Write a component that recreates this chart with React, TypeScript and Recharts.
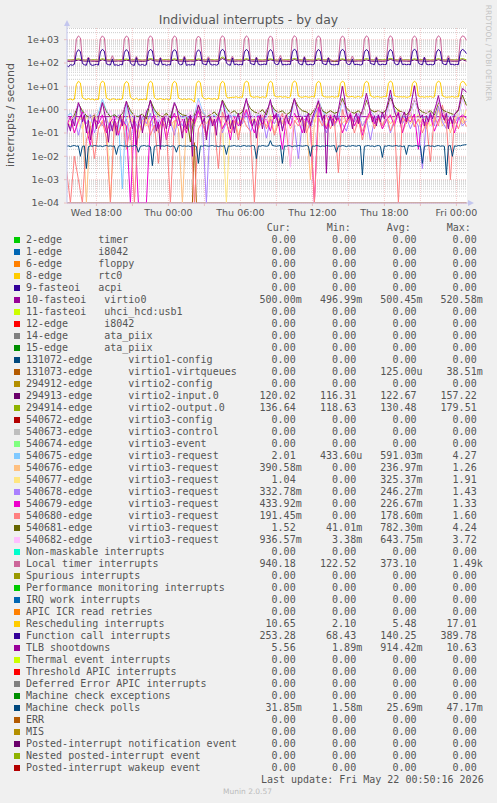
import { LineChart, Line, XAxis, YAxis, CartesianGrid, ReferenceLine } from 'recharts';

// time is in hours relative to Thu 00:00; one row every 10 minutes
const START_HOUR = -8.5;
const ROW_HOURS = 1 / 6;
const ROW_COUNT = 201;
const FLOOR = 1e-4; // zero values sit on the bottom of the log scale

const X_GRID_HOURS = [-6, -3, 0, 3, 6, 9, 12, 15, 18, 21, 24];
const X_LABEL_HOURS = [-6, 0, 6, 12, 18, 24];
const X_LABELS = ['Wed 18:00', 'Thu 00:00', 'Thu 06:00', 'Thu 12:00', 'Thu 18:00', 'Fri 00:00'];
const Y_TICKS = [1e-4, 1e-3, 1e-2, 1e-1, 1, 10, 100, 1000];
const Y_LABELS = ['1e-04', '1e-03', '1e-02', '1e-01', '1e+00', '1e+01', '1e+02', '1e+03'];
const MINOR_STEPS = [2, 3, 4, 5, 6, 7, 8, 9];

// 10-minute series
const LOCAL_TIMER = [
  132, 128, 135, 130, 134, 1050, 1450, 1200, 140, 133, 130, 180,
  135, 130, 128, 133, 131, 1100, 1460, 1180, 138, 131, 129, 205,
  130, 134, 129, 127, 133, 1080, 1440, 1220, 142, 132, 128, 190,
  133, 129, 131, 135, 130, 1120, 1470, 1190, 139, 134, 130, 175,
  131, 128, 134, 129, 132, 1060, 1450, 1230, 141, 130, 127, 200,
  129, 133, 130, 128, 135, 1090, 1430, 1170, 137, 133, 131, 185,
  134, 130, 127, 132, 129, 1110, 1480, 1210, 143, 131, 128, 195,
  130, 135, 131, 128, 133, 1070, 1460, 1200, 140, 134, 129, 180,
  132, 128, 130, 134, 131, 1100, 1450, 1190, 138, 130, 132, 210,
  129, 133, 128, 131, 135, 1080, 1490, 1220, 142, 133, 127, 190,
  131, 130, 134, 129, 132, 1120, 1470, 1180, 139, 131, 130, 175,
  135, 129, 131, 133, 128, 1090, 1440, 1210, 141, 134, 128, 200,
  130, 132, 129, 135, 131, 1060, 1460, 1230, 137, 130, 133, 185,
  128, 134, 130, 127, 133, 1100, 1480, 1190, 140, 132, 129, 195,
  133, 129, 135, 131, 130, 1110, 1450, 1200, 143, 131, 130, 180,
  131, 133, 128, 132, 134, 1080, 1470, 1220, 139, 133, 128, 205,
  130, 134, 131, 129, 132, 1100, 1460, 1350, 940.18,
];
const FUNCTION_CALL = [
  82, 68.43, 85, 80, 88, 280, 370, 310, 95, 84, 80, 165,
  86, 79, 83, 88, 81, 300, 385, 320, 92, 85, 82, 150,
  80, 84, 78, 86, 83, 290, 375, 300, 97, 83, 79, 170,
  85, 81, 87, 79, 84, 310, 380, 330, 94, 86, 81, 160,
  83, 88, 80, 85, 82, 295, 370, 315, 96, 84, 87, 175,
  79, 85, 82, 88, 80, 285, 365, 305, 93, 88, 83, 155,
  87, 82, 86, 81, 89, 305, 385, 325, 98, 85, 80, 165,
  84, 90, 83, 87, 82, 300, 380, 320, 95, 89, 84, 170,
  88, 83, 86, 90, 85, 290, 375, 310, 97, 86, 88, 160,
  82, 87, 84, 89, 86, 310, 390, 330, 99, 87, 83, 175,
  86, 84, 88, 83, 90, 295, 380, 315, 96, 88, 85, 165,
  89, 85, 83, 87, 84, 305, 385, 325, 98, 86, 89, 150,
  84, 88, 86, 82, 87, 300, 375, 320, 95, 90, 84, 170,
  87, 83, 89, 85, 88, 290, 380, 310, 97, 85, 87, 160,
  85, 89, 84, 88, 83, 310, 389.78, 330, 99, 88, 84, 175,
  88, 84, 87, 83, 89, 295, 380, 315, 96, 87, 85, 165,
  86, 88, 83, 87, 85, 300, 385, 340, 253.28,
];
const RESCHEDULING = [
  2.8, 2.7, 2.9, 2.6, 2.8, 12, 16.5, 14, 3.3, 2.9, 2.7, 3.0,
  2.7, 2.9, 2.6, 2.8, 2.7, 13, 16.8, 14.5, 3.2, 2.8, 2.6, 2.9,
  2.9, 2.6, 2.8, 2.7, 2.9, 12.5, 16.2, 13.8, 3.4, 2.9, 2.7, 3.1,
  2.6, 2.8, 2.7, 2.9, 2.6, 13, 16.6, 14.2, 3.3, 2.8, 2.8, 3.0,
  2.8, 2.7, 2.9, 2.6, 2.8, 12.8, 16.4, 14, 3.2, 2.9, 2.7, 2.9,
  2.7, 2.9, 2.8, 2.6, 2.1, 13.2, 17.0, 14.4, 3.5, 3.0, 2.8, 3.1,
  2.9, 2.8, 3.0, 2.7, 2.9, 12.6, 16.5, 14.1, 3.6, 3.2, 3.3, 3.4,
  3.4, 3.6, 3.3, 3.5, 3.4, 13.5, 16.8, 14.6, 3.8, 3.5, 3.4, 3.6,
  3.5, 3.3, 3.6, 3.4, 3.5, 13, 16.6, 14.3, 3.9, 3.6, 3.5, 3.7,
  3.4, 3.6, 3.5, 3.3, 3.6, 13.4, 17.01, 14.5, 3.8, 3.5, 3.4, 3.6,
  3.6, 3.4, 3.5, 3.7, 3.4, 12.9, 16.4, 14.2, 3.9, 3.6, 3.5, 3.5,
  3.5, 3.7, 3.4, 3.6, 3.5, 13.3, 16.7, 14.6, 3.8, 3.5, 3.6, 3.7,
  3.4, 3.5, 3.7, 3.4, 3.6, 13, 16.5, 14.3, 4.0, 3.6, 3.4, 3.6,
  3.6, 3.4, 3.5, 3.7, 3.5, 13.4, 16.9, 14.4, 3.9, 3.7, 3.5, 3.6,
  3.5, 3.6, 3.4, 3.5, 3.7, 13.1, 16.6, 14.1, 3.8, 3.5, 3.6, 3.4,
  3.6, 3.5, 3.7, 3.4, 3.5, 13.2, 16.8, 14.5, 3.9, 3.6, 3.4, 3.5,
  3.5, 3.7, 3.4, 3.6, 3.5, 13, 16.6, 15, 10.65,
];
const TLB = [
  0.08, 0.25, 0.12, 0.4, 0.2, 0.7, 2.0, 1.2, 0.3, 0.6, 0.1, 0.35,
  0.05, 0.2, 0.5, 0.15, 0.45, 0.9, 2.0, 0.8, 0.25, 0.04, 0.3, 0.12,
  0.4, 0.08, 0.3, 0.6, 0.2, 1.0, 2.3, 0.9, 0.35, 0.15, 0.5, 0.03,
  0.25, 0.6, 0.1, 0.35, 0.8, 1.2, 2.6, 1.1, 0.4, 0.12, 0.3, 0.02,
  0.3, 0.5, 0.15, 0.45, 0.2, 0.9, 2.0, 1.3, 0.5, 0.2, 0.06, 0.4,
  0.15, 0.35, 0.6, 0.01, 0.5, 0.7, 1.6, 0.8, 0.25, 0.45, 0.05, 0.3,
  0.5, 0.2, 0.4, 0.08, 0.6, 1.1, 2.4, 1.0, 0.3, 0.6, 0.15, 0.35,
  0.1, 0.4, 0.7, 0.2, 0.5, 1.4, 3.0, 1.2, 0.5, 0.2, 0.4, 0.06,
  0.3, 0.6, 0.15, 0.5, 0.9, 1.3, 2.7, 0.9, 0.4, 0.7, 0.2, 0.45,
  0.12, 0.35, 0.6, 0.25, 0.5, 1.5, 3.0, 1.4, 0.6, 0.3, 0.5, 0.1,
  0.4, 0.7, 0.2, 0.45, 0.8, 1.2, 2.4, 1.0, 0.35, 0.6, 0.00189, 0.3,
  0.5, 0.2, 0.6, 0.35, 1.0, 3.0, 10.0, 3.5, 0.8, 0.4, 0.6, 0.15,
  0.45, 0.7, 0.25, 0.6, 0.9, 2.0, 5.0, 2.2, 0.7, 0.3, 0.55, 0.2,
  0.6, 0.3, 0.8, 0.4, 1.1, 2.5, 7.0, 2.6, 0.9, 0.5, 0.7, 0.25,
  0.5, 0.8, 0.3, 0.7, 1.2, 3.5, 10.63, 3.0, 1.0, 0.45, 0.6, 0.2,
  0.55, 0.3, 0.75, 0.4, 0.9, 1.8, 4.0, 1.6, 0.6, 0.35, 0.7, 0.15,
  0.5, 0.25, 0.6, 0.8, 1.0, 2.8, 8.0, 7.0, 5.56,
];
const MC_POLLS = [
  0.027, 0.028, 0.026, 0.028, 0.029, 0.027, 0.028, 0.01, 0.027, 0.028, 0.003, 0.026,
  0.028, 0.027, 0.029, 0.028, 0.027, 0.028, 0.026, 0.028, 0.029, 0.027, 0.028, 0.027,
  0.028, 0.012, 0.027, 0.029, 0.028, 0.027, 0.028, 0.026, 0.028, 0.027, 0.029, 0.028,
  0.015, 0.027, 0.028, 0.029, 0.027, 0.028, 0.026, 0.004, 0.027, 0.028, 0.029, 0.027,
  0.028, 0.027, 0.029, 0.028, 0.026, 0.028, 0.027, 0.015, 0.028, 0.029, 0.027, 0.028,
  0.027, 0.028, 0.026, 0.029, 0.028, 0.027, 0.005, 0.028, 0.027, 0.029, 0.028, 0.027,
  0.028, 0.029, 0.027, 0.028, 0.026, 0.028, 0.027, 0.029, 0.012, 0.028, 0.027, 0.028,
  0.029, 0.027, 0.028, 0.026, 0.028, 0.029, 0.027, 0.028, 0.027, 0.029, 0.028, 0.008,
  0.028, 0.027, 0.029, 0.028, 0.027, 0.028, 0.047, 0.029, 0.028, 0.027, 0.028, 0.029,
  0.005, 0.028, 0.027, 0.029, 0.028, 0.026, 0.028, 0.027, 0.029, 0.028, 0.027, 0.028,
  0.029, 0.027, 0.01, 0.028, 0.027, 0.029, 0.028, 0.026, 0.028, 0.027, 0.029, 0.028,
  0.027, 0.028, 0.029, 0.015, 0.028, 0.027, 0.029, 0.028, 0.026, 0.028, 0.027, 0.029,
  0.028, 0.027, 0.029, 0.028, 0.00158, 0.027, 0.028, 0.029, 0.027, 0.028, 0.026, 0.028,
  0.029, 0.027, 0.009, 0.028, 0.027, 0.029, 0.028, 0.027, 0.028, 0.029, 0.027, 0.028,
  0.026, 0.028, 0.012, 0.029, 0.028, 0.027, 0.028, 0.029, 0.027, 0.028, 0.005, 0.027,
  0.028, 0.029, 0.027, 0.028, 0.026, 0.028, 0.029, 0.027, 0.028, 0.027, 0.0016, 0.028,
  0.029, 0.01, 0.028, 0.027, 0.029, 0.028, 0.03, 0.031, 0.0318,
];

// 20-minute series
const VIRTIO2_IN = [
  120, 118, 121, 135, 123, 119, 121, 119, 117, 138, 122, 120,
  119, 122, 118, 133, 121, 118, 120, 117, 121, 140, 124, 119,
  122, 119, 120, 136, 121, 120, 118, 121, 119, 134, 123, 117,
  121, 120, 118, 157, 125, 121, 119, 122, 120, 139, 122, 118,
  120, 118, 121, 137, 124, 120, 122, 119, 117, 141, 123, 121,
  118, 121, 120, 135, 122, 119, 121, 116.3, 119, 138, 124, 120,
  119, 122, 121, 136, 121, 118, 120, 118, 122, 142, 125, 120,
  122, 120, 119, 137, 123, 121, 118, 121, 120, 139, 122, 119,
  121, 119, 120, 140, 120.02,
];
const VIRTIO2_OUT = [
  138, 135, 140, 150, 137, 134, 136, 139, 134, 152, 138, 136,
  135, 137, 139, 148, 136, 138, 139, 134, 137, 155, 140, 135,
  137, 140, 135, 151, 137, 139, 134, 138, 136, 149, 139, 136,
  140, 136, 138, 179.5, 141, 137, 136, 139, 135, 153, 138, 140,
  138, 135, 140, 150, 137, 134, 135, 138, 137, 156, 140, 136,
  139, 136, 134, 152, 138, 137, 137, 118.6, 139, 150, 136, 138,
  134, 138, 136, 154, 139, 135, 140, 137, 138, 157, 141, 136,
  136, 139, 135, 151, 138, 140, 138, 135, 137, 153, 137, 136,
  139, 136, 138, 155, 136.64,
];
const REQ_675 = [
  0.5, 0.7, 0.4, 1.5, 0.8, 0.45, 0.6, 0.35, 0.7, 2.8, 0.9, 0.5, 0.6, 0.4, 0.0004, 2.0, 0.7, 0.45, 0.55, 0.35,
  0.6, 2.2, 0.8, 0.5, 0.4, 0.65, 0.5, 2.0, 0.7, 0.45, 0.55, 0.4, 0.6, 3.0, 0.9, 0.5, 0.45, 0.6, 0.35, 2.4,
  0.8, 0.5, 0.6, 0.4, 0.55, 2.5, 0.7, 0.45, 0.6, 0.35, 0.5, 2.2, 0.8, 0.55, 0.4, 0.6, 0.45, 2.6, 0.7, 0.5,
  0.6, 0.4, 0.55, 2.8, 0.9, 0.5, 0.45, 0.6, 0.4, 2.4, 0.8, 0.55, 0.5, 0.4, 0.6, 3.2, 0.9, 0.5, 0.45, 0.6,
  0.4, 4.27, 1.0, 0.6, 0.5, 0.45, 0.55, 2.6, 0.8, 0.5, 0.45, 0.6, 0.4, 2.5, 0.9, 0.55, 0.5, 0.6, 0.45, 3.0,
  2.01,
];
const REQ_676 = [
  0.2, 0.4, 0.1, 0.3, 0.5, 0, 0.25, 0.6, 0.15, 0.35, 0.1, 0.45, 0.2, 0.3, 0.55, 0.12, 0.4, 0.25, 0.06, 0.35,
  0.5, 0.2, 0.3, 0.1, 0.4, 0.65, 0.2, 0.35, 0.15, 0, 0.3, 0.5, 0.2, 0.8, 0.25, 0.1, 0.4, 0.3, 0.55, 0.15,
  0.35, 0.2, 0.5, 0.08, 0.3, 0.9, 0.25, 0.45, 0.15, 0.35, 0.2, 0.5, 0.1, 0.4, 0.25, 0.6, 0.15, 0.3, 0.45, 0.2,
  0.3, 0.001, 0.25, 1.26, 0.35, 0.15, 0.5, 0.2, 0.4, 0.1, 0.3, 0.55, 0.2, 0.45, 0.12, 0.35, 0.6, 0.2, 0.4, 0.15,
  0.5, 0.25, 0.35, 0.7, 0.1, 0.3, 0.5, 0.2, 0.4, 0.25, 0.15, 0.45, 0.3, 1.0, 0.2, 0.4, 0.1, 0.35, 0.55, 0.25,
  0.39,
];
const REQ_677 = [
  0.4, 0.2, 0.6, 0.3, 0.15, 0.5, 0.25, 0.7, 0.35, 0.2, 0.45, 0, 0.3, 0.55, 0.2, 0.4, 0.65, 0.25, 0.35, 0.5,
  0.2, 0.45, 0.3, 0.8, 0.25, 0.5, 0.35, 0.15, 0.6, 0.3, 0.45, 0.2, 0.55, 1.2, 0.4, 0.25, 0.5, 0.3, 0.65, 0.2,
  0, 0.35, 0.5, 0.25, 0.6, 1.0, 0.3, 0.45, 0.2, 0.55, 0.35, 0.6, 0.25, 0.45, 0.3, 0.7, 0.2, 0.5, 0.35, 0.4,
  0.25, 0.55, 0.3, 1.91, 0.45, 0.2, 0.6, 0.35, 0.5, 0.25, 0.4, 0.65, 0.3, 0.5, 0.2, 0.45, 0.7, 0.3, 0.55, 0.25,
  0.4, 0.6, 0.35, 1.1, 0.3, 0.5, 0.25, 0.45, 0.6, 0.3, 0.5, 0.2, 0.4, 1.5, 0.35, 0.55, 0.25, 0.45, 0.6, 0.3,
  1.04,
];
const REQ_678 = [
  0.3, 0.15, 0.5, 0.08, 0.4, 0.25, 0.6, 0.1, 0.35, 0.2, 0.45, 0.12, 0.3, 0.6, 0.2, 0.4, 0.05, 0.35, 0.15, 0.5,
  0.25, 0.7, 0.1, 0.4, 0.2, 0.55, 0.3, 0.08, 0.45, 0.2, 0.6, 0.15, 0.35, 1.0, 0.25, 0, 0.4, 0.2, 0.5, 0.1,
  0.3, 0.6, 0.15, 0.45, 0.25, 0.8, 0.1, 0.35, 0.2, 0.5, 0.06, 0.4, 0.25, 0.65, 0.15, 0.35, 0.5, 0.2, 0.008, 0.3,
  0.45, 0.15, 0.6, 1.2, 0.3, 0.1, 0.4, 0.2, 0.55, 0.25, 0.12, 0.5, 0.3, 0.7, 0.2, 0.4, 0.05, 0.35, 0.6, 0.2,
  0.45, 0.1, 0.3, 0.8, 0.25, 0.5, 0.15, 0.4, 0.2, 0.003, 0.35, 0.6, 0.2, 1.43, 0.3, 0.15, 0.45, 0.25, 0.5, 0.2,
  0.33,
];
const REQ_679 = [
  0.2, 0.5, 0.1, 0.35, 0.8, 0.15, 0.03, 0.4, 0.25, 0.6, 0.1, 0.3, 0.5, 0.08, 0.35, 0.2, 0, 0.4, 0, 0,
  0, 0.3, 0.6, 0.15, 0.45, 0.05, 0.3, 0.7, 0.2, 0.4, 0.1, 0.5, 0.25, 0.9, 0.3, 0.08, 0.45, 0.2, 0.6, 0.15,
  0.35, 0.05, 0.5, 0.2, 0.4, 1.0, 0.3, 0.1, 0.55, 0.25, 0.4, 0.12, 0.6, 0.3, 0.02, 0.45, 0.2, 0.7, 0.35, 0.1,
  0.5, 0.2, 0, 1.33, 0.4, 0.15, 0.6, 0.25, 0.45, 0.1, 0.3, 0.7, 0.2, 0.5, 0.08, 0.4, 0.9, 0.25, 0.55, 0.15,
  0.35, 0.6, 0.2, 0.8, 0.1, 0.45, 0.3, 0.65, 0.02, 0.4, 0.2, 0.55, 0.12, 0.35, 0.7, 0.25, 0.5, 0.1, 0.4, 0.6,
  0.43,
];
const REQ_680 = [
  0.003, 0, 0.01, 0.001, 0, 0.05, 0.2, 0.008, 0.15, 0.3, 0.06, 0, 0.25, 0.1, 0.4, 0.02, 0.18, 0, 0.3, 0.12,
  0.5, 0.08, 0.22, 0.005, 0.35, 0.15, 0, 0.28, 0.6, 0.1, 0.2, 0.4, 0, 0.15, 0.3, 0.07, 0.45, 0.2, 0.003, 0.8,
  0.25, 0.1, 0.35, 0.05, 0.5, 0.2, 0.12, 0, 0.3, 0.6, 0.15, 0.4, 0.08, 0.25, 0.7, 0.12, 0.004, 0.35, 0.2, 0.5,
  0.1, 0.3, 0, 0.45, 0.2, 0.6, 0.15, 0.35, 0.002, 1.0, 0.25, 0.5, 0.1, 0.4, 0.05, 0.3, 0.7, 0.15, 0.45, 0.2,
  0.6, 0.12, 0.35, 0, 0.5, 0.25, 0.8, 0.18, 0.4, 0.1, 0.3, 0.006, 0.55, 0.2, 1.6, 0.25, 0.001, 0.4, 0.15, 0.5,
  0.19,
];
const REQ_681 = [
  0.5, 0.35, 0.6, 1.8, 0.9, 0.55, 0.45, 0.6, 0.4, 2.0, 0.8, 0.5, 0.6, 0.45, 0.7, 2.2, 0.9, 0.55, 0.5, 0.65,
  0.4, 2.5, 1.0, 0.6, 0.5, 0.7, 0.45, 1.8, 0.8, 0.6, 0.55, 0.041, 0.6, 1.5, 0.7, 0.5, 0.6, 0.8, 0.5, 2.6,
  1.2, 0.7, 0.9, 0.6, 0.8, 2.4, 1.1, 0.8, 0.7, 1.0, 0.6, 2.0, 1.0, 0.75, 0.9, 0.6, 0.8, 2.8, 1.3, 0.9,
  0.8, 0.6, 1.0, 2.2, 0.9, 0.7, 0.9, 0.7, 0.8, 3.0, 1.2, 0.8, 0.7, 0.9, 0.6, 2.5, 1.0, 0.8, 0.9, 0.7,
  1.0, 3.2, 1.4, 0.9, 0.8, 0.6, 0.9, 2.6, 1.1, 0.8, 0.7, 0.9, 0.6, 2.0, 1.0, 0.8, 0.7, 0.6, 0.9, 4.24,
  1.52,
];
const REQ_682 = [
  0.6, 0.3, 0.8, 1.8, 0.5, 0.9, 0.4, 0.7, 0.35, 2.0, 0.6, 0.9, 0.3, 0.5, 0.8, 2.2, 0.45, 0.7, 0.25, 0.6,
  0.9, 1.6, 0.5, 0.35, 0.7, 0.4, 0.8, 2.0, 0.6, 0.3, 0.5, 0.85, 0.4, 2.4, 0.7, 0.5, 0.9, 0.3, 0.6, 2.2,
  0.55, 0.8, 0.35, 0.65, 0.45, 2.5, 0.7, 0.4, 0.9, 0.5, 0.3, 2.0, 0.6, 0.85, 0.4, 0.7, 0.0034, 2.6, 0.8, 0.5,
  0.65, 0.35, 0.9, 3.0, 0.6, 0.45, 0.8, 0.5, 0.7, 2.4, 0.5, 0.85, 0.4, 0.7, 0.55, 3.72, 0.8, 0.45, 0.9, 0.6,
  0.4, 2.8, 0.7, 0.5, 0.85, 0.45, 0.6, 3.0, 0.75, 0.5, 0.9, 0.4, 0.7, 2.6, 0.55, 0.8, 0.45, 0.65, 0.5, 3.2,
  0.94,
];

// sparse series
const VIRTIO0 = [0.5, 0.5, 0.501, 0.499, 0.5, 0.52, 0.5, 0.497, 0.5];
const VIRTQUEUES_ROWS = [0, 63, 64, 65, 200];
const VIRTQUEUES = [0, 0, 0.0385, 0, 0];

type Series = { key: string; color: string; values: number[]; every?: number; rows?: number[] };

// drawn in the same order as the legend
const SERIES: Series[] = [
  { key: 'virtio0', color: '#990099', values: VIRTIO0, every: 25 },
  { key: 'virtqueues', color: '#B35A00', values: VIRTQUEUES, rows: VIRTQUEUES_ROWS },
  { key: 'in', color: '#6B006B', values: VIRTIO2_IN, every: 2 },
  { key: 'out', color: '#8FB300', values: VIRTIO2_OUT, every: 2 },
  { key: 'r675', color: '#80C9FF', values: REQ_675, every: 2 },
  { key: 'r676', color: '#FFC080', values: REQ_676, every: 2 },
  { key: 'r677', color: '#FFE680', values: REQ_677, every: 2 },
  { key: 'r678', color: '#AA80FF', values: REQ_678, every: 2 },
  { key: 'r679', color: '#EE00CC', values: REQ_679, every: 2 },
  { key: 'r680', color: '#FF8080', values: REQ_680, every: 2 },
  { key: 'r681', color: '#666600', values: REQ_681, every: 2 },
  { key: 'r682', color: '#FFBFFF', values: REQ_682, every: 2 },
  { key: 'loc', color: '#CC6699', values: LOCAL_TIMER, every: 1 },
  { key: 'res', color: '#FFCC00', values: RESCHEDULING, every: 1 },
  { key: 'fcall', color: '#330099', values: FUNCTION_CALL, every: 1 },
  { key: 'tlb', color: '#990099', values: TLB, every: 1 },
  { key: 'mcp', color: '#00487D', values: MC_POLLS, every: 1 },
];

const LEGEND_LABELS = [
  '2-edge      timer', '1-edge      i8042', '6-edge      floppy', '8-edge      rtc0', '9-fasteoi   acpi',
  '10-fasteoi   virtio0', '11-fasteoi   uhci_hcd:usb1', '12-edge      i8042', '14-edge      ata_piix',
  '15-edge      ata_piix', '131072-edge      virtio1-config', '131073-edge      virtio1-virtqueues',
  '294912-edge      virtio2-config', '294913-edge      virtio2-input.0', '294914-edge      virtio2-output.0',
  '540672-edge      virtio3-config', '540673-edge      virtio3-control', '540674-edge      virtio3-event',
  '540675-edge      virtio3-request', '540676-edge      virtio3-request', '540677-edge      virtio3-request',
  '540678-edge      virtio3-request', '540679-edge      virtio3-request', '540680-edge      virtio3-request',
  '540681-edge      virtio3-request', '540682-edge      virtio3-request', 'Non-maskable interrupts',
  'Local timer interrupts', 'Spurious interrupts', 'Performance monitoring interrupts', 'IRQ work interrupts',
  'APIC ICR read retries', 'Rescheduling interrupts', 'Function call interrupts', 'TLB shootdowns',
  'Thermal event interrupts', 'Threshold APIC interrupts', 'Deferred Error APIC interrupts',
  'Machine check exceptions', 'Machine check polls', 'ERR', 'MIS', 'Posted-interrupt notification event',
  'Nested posted-interrupt event', 'Posted-interrupt wakeup event',
];
const LEGEND_COLORS = [
  '#00CC00', '#0066B3', '#FF8000', '#FFCC00', '#330099', '#990099', '#CCFF00', '#FF0000', '#808080', '#008F00',
  '#00487D', '#B35A00', '#B38F00', '#6B006B', '#8FB300', '#B30000', '#BEBEBE', '#80FF80', '#80C9FF', '#FFC080',
  '#FFE680', '#AA80FF', '#EE00CC', '#FF8080', '#666600', '#FFBFFF', '#00FFCC', '#CC6699', '#999900', '#00CC00',
  '#0066B3', '#FF8000', '#FFCC00', '#330099', '#990099', '#CCFF00', '#FF0000', '#808080', '#008F00', '#00487D',
  '#B35A00', '#B38F00', '#6B006B', '#8FB300', '#B30000',
];
const Z = '0.00';
const CUR = [Z, Z, Z, Z, Z, '500.00m', Z, Z, Z, Z, Z, Z, Z, '120.02', '136.64', Z, Z, Z, '2.01', '390.58m', '1.04',
  '332.78m', '433.92m', '191.45m', '1.52', '936.57m', Z, '940.18', Z, Z, Z, Z, '10.65', '253.28', '5.56', Z, Z, Z, Z,
  '31.85m', Z, Z, Z, Z, Z];
const MIN = [Z, Z, Z, Z, Z, '496.99m', Z, Z, Z, Z, Z, Z, Z, '116.31', '118.63', Z, Z, Z, '433.60u', Z, Z,
  Z, Z, Z, '41.01m', '3.38m', Z, '122.52', Z, Z, Z, Z, '2.10', '68.43', '1.89m', Z, Z, Z, Z,
  '1.58m', Z, Z, Z, Z, Z];
const AVG = [Z, Z, Z, Z, Z, '500.45m', Z, Z, Z, Z, Z, '125.00u', Z, '122.67', '130.48', Z, Z, Z, '591.03m', '236.97m',
  '325.37m', '246.27m', '226.67m', '178.60m', '782.30m', '643.75m', Z, '373.10', Z, Z, Z, Z, '5.48', '140.25',
  '914.42m', Z, Z, Z, Z, '25.69m', Z, Z, Z, Z, Z];
const MAX = [Z, Z, Z, Z, Z, '520.58m', Z, Z, Z, Z, Z, '38.51m', Z, '157.22', '179.51', Z, Z, Z, '4.27', '1.26', '1.91',
  '1.43', '1.33', '1.60', '4.24', '3.72', Z, '1.49k', Z, Z, Z, Z, '17.01', '389.78', '10.63', Z, Z, Z, Z,
  '47.17m', Z, Z, Z, Z, Z];
const COLUMNS = [
  { title: 'Cur:', values: CUR, titleX: 266.7, endX: 301.7 },
  { title: 'Min:', values: MIN, titleX: 326.7, endX: 362.2 },
  { title: 'Avg:', values: AVG, titleX: 386.7, endX: 422.5 },
  { title: 'Max:', values: MAX, titleX: 446.7, endX: 482.7 },
];

type Row = { t: number; [key: string]: number };
const rows: Row[] = Array.from({ length: ROW_COUNT }, (_, i) => ({ t: START_HOUR + i * ROW_HOURS }));
for (const s of SERIES) {
  s.values.forEach((v, k) => {
    const r = s.rows ? s.rows[k] : k * (s.every || 1);
    rows[r][s.key] = Math.max(v, FLOOR);
  });
}

const minorGrid: number[] = [];
for (const d of Y_TICKS) for (const m of MINOR_STEPS) if (d * m < 3162) minorGrid.push(d * m);

const TEXT = '#555';
const MONO = '"DejaVu Sans Mono", monospace';
const SANS = '"DejaVu Sans", sans-serif';
const ROW0 = 239.7;
const ROW_H = 12;
const MAJOR_GRID = 'rgba(225,90,90,0.32)';

function Legend() {
  const cell = (top: number): React.CSSProperties => ({
    position: 'absolute', top: top - 6, height: 12, lineHeight: '12px', whiteSpace: 'pre',
  });
  return (
    <div style={{ position: 'absolute', left: 0, top: 0, width: 497, height: 803, fontFamily: MONO, fontSize: 10, color: TEXT }}>
      {COLUMNS.map((c) => (
        <div key={c.title} style={{ ...cell(227.5), left: c.titleX }}>{c.title}</div>
      ))}
      {LEGEND_LABELS.map((label, i) => {
        const y = ROW0 + i * ROW_H;
        return (
          <div key={i}>
            <div style={{ position: 'absolute', left: 14, top: y - 3, width: 6, height: 6, background: LEGEND_COLORS[i] }} />
            <div style={{ ...cell(y), left: 26 }}>{label}</div>
            {COLUMNS.map((c) => {
              const v = c.values[i];
              const end = /[0-9]$/.test(v) ? c.endX - 6.02 : c.endX;
              return (
                <div key={c.title} style={{ ...cell(y), left: end - 80, width: 80, textAlign: 'right' }}>{v}</div>
              );
            })}
          </div>
        );
      })}
      <div style={{ ...cell(779.7), left: 483.7 - 240, width: 240, textAlign: 'right' }}>
        Last update: Fri May 22 00:50:16 2026
      </div>
      <div style={{ position: 'absolute', top: 787, left: 0, width: 495, textAlign: 'center', fontFamily: SANS, fontSize: 7.5, color: '#bbb', lineHeight: '10px' }}>
        Munin 2.0.57
      </div>
    </div>
  );
}

function Frame() {
  const axis = '#c3c6ee';
  return (
    <svg width={497} height={230} style={{ position: 'absolute', left: 0, top: 0, pointerEvents: 'none' }}>
      <text x={248.5} y={19.5} textAnchor="middle" dominantBaseline="central" fontFamily={SANS} fontSize={12.4} fill={TEXT}>
        Individual interrupts - by day
      </text>
      <text x={10.5} y={115} transform="rotate(-90 10.5 115)" textAnchor="middle" dominantBaseline="central" fontFamily={SANS} fontSize={11} fill={TEXT}>
        interrupts / second
      </text>
      <text x={488} y={53} transform="rotate(90 488 53)" textAnchor="middle" dominantBaseline="central" fontFamily={SANS} fontSize={7.5} fill="#c4c4c4">
        RRDTOOL / TOBI OETIKER
      </text>
      <line x1={67} y1={203} x2={67} y2={25} stroke={axis} />
      <polygon points="67,20 64,26 70,26" fill={axis} />
      <line x1={67} y1={203} x2={469} y2={203} stroke={axis} />
      <polygon points="474,203 468,200 468,206" fill={axis} />
    </svg>
  );
}

export default function App() {
  return (
    <div style={{ position: 'absolute', left: 0, top: 0, width: 497, height: 803, background: '#F0F0F0', overflow: 'hidden' }}>
      <LineChart width={497} height={230} data={rows} margin={{ top: 28, right: 30, bottom: 7, left: 0 }}>
        <CartesianGrid fill="#fff" vertical={false} horizontalValues={minorGrid} stroke="rgba(128,128,128,0.4)" strokeDasharray="1 1" />
        <CartesianGrid horizontalValues={Y_TICKS} verticalValues={X_GRID_HOURS} stroke={MAJOR_GRID} strokeDasharray="1 1" />
        <XAxis
          type="number"
          dataKey="t"
          domain={[-8.45, 24.883]}
          allowDataOverflow
          ticks={X_GRID_HOURS}
          tickFormatter={(v: number) => {
            const k = X_LABEL_HOURS.indexOf(v);
            return k >= 0 ? X_LABELS[k] : '';
          }}
          interval={0}
          height={20}
          axisLine={false}
          tickSize={3}
          tickMargin={3}
          tickLine={{ stroke: MAJOR_GRID }}
          tick={{ fontSize: 9.5, fill: TEXT, fontFamily: SANS }}
        />
        <YAxis
          type="number"
          scale="log"
          domain={[FLOOR, 3162]}
          allowDataOverflow
          ticks={Y_TICKS}
          tickFormatter={(v: number) => Y_LABELS[Y_TICKS.indexOf(v)] ?? ''}
          interval={0}
          width={67}
          axisLine={false}
          tickSize={3}
          tickMargin={5}
          tickLine={{ stroke: MAJOR_GRID }}
          tick={{ fontSize: 9.5, fill: TEXT, fontFamily: SANS }}
        />
        <ReferenceLine y={FLOOR} stroke="#f2a0a0" />
        {SERIES.map((s) => (
          <Line
            key={s.key}
            type="linear"
            dataKey={s.key}
            stroke={s.color}
            strokeWidth={1}
            dot={false}
            activeDot={false}
            connectNulls
            isAnimationActive={false}
          />
        ))}
      </LineChart>
      <Frame />
      <Legend />
    </div>
  );
}
